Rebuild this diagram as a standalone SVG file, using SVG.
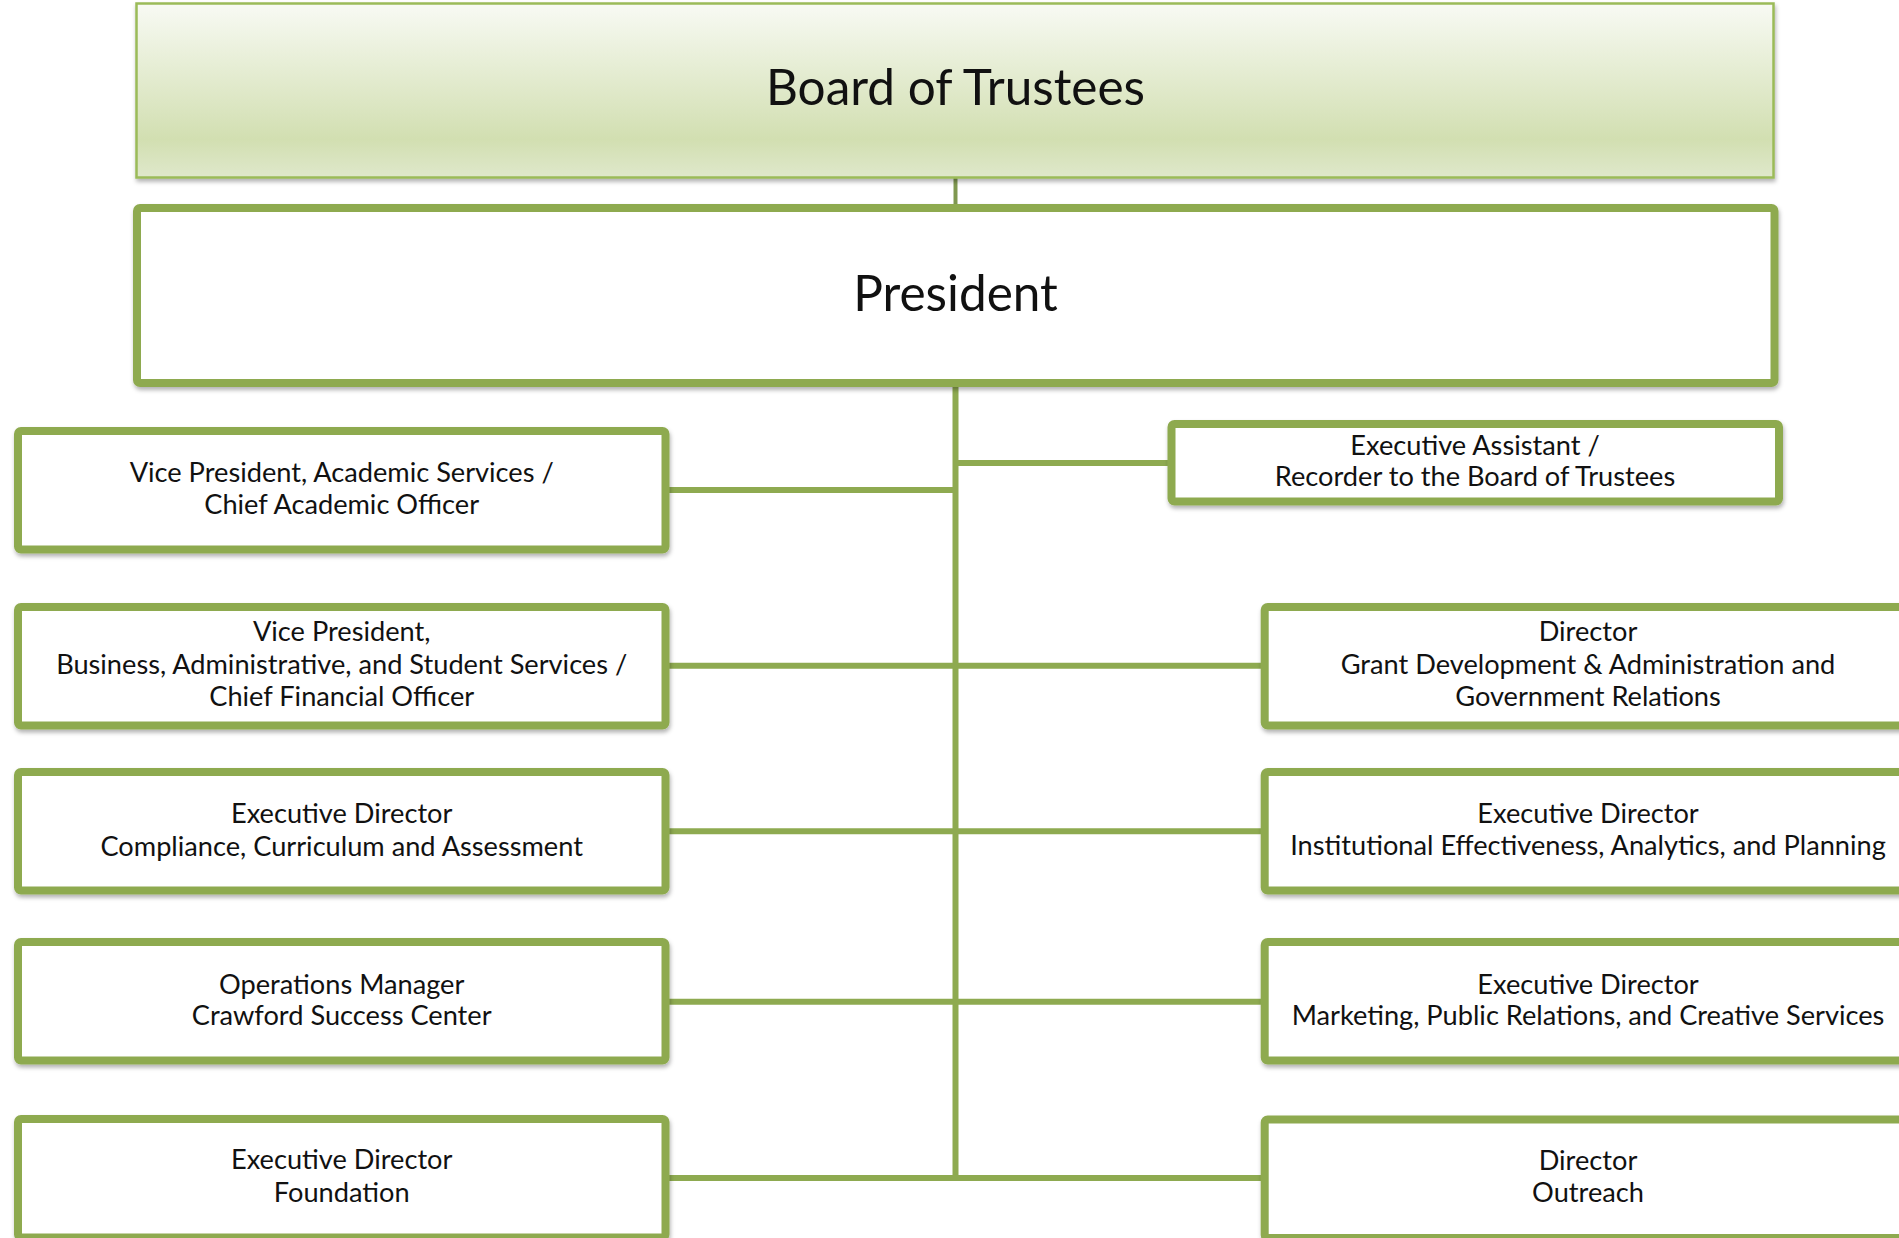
<svg xmlns="http://www.w3.org/2000/svg" width="1899" height="1238" viewBox="0 0 1899 1238">
<style>
.box{fill:#ffffff;stroke:#8eaa50;stroke-width:8;filter:url(#sh)}
.conn{stroke:#8eaa50;stroke-width:6;fill:none}
.t{font-family:Lato,"Open Sans","Liberation Sans",sans-serif;font-size:27.2px;fill:#111;text-anchor:middle}
.big{font-family:Lato,"Open Sans","Liberation Sans",sans-serif;font-size:49.5px;fill:#111;text-anchor:middle}
</style>
<defs>
<linearGradient id="bg" x1="0" y1="0" x2="0" y2="1">
<stop offset="0" stop-color="#f8faf4"/>
<stop offset="0.78" stop-color="#d2dfb1"/>
<stop offset="1" stop-color="#dfe8cb"/>
</linearGradient>
<filter id="sh" x="-5%" y="-10%" width="110%" height="130%">
<feDropShadow dx="1" dy="3" stdDeviation="2" flood-color="#000" flood-opacity="0.3"/>
</filter>
</defs>
<g id="connectors">
<line x1="955.5" y1="178" x2="955.5" y2="205" stroke="#7f9850" stroke-width="4"/>
<line class="conn" x1="955.5" y1="386" x2="955.5" y2="1181"/>
<line class="conn" x1="668" y1="490" x2="955.5" y2="490"/>
<line class="conn" x1="955.5" y1="463" x2="1168" y2="463"/>
<line class="conn" x1="668" y1="665.7" x2="1262" y2="665.7"/>
<line class="conn" x1="668" y1="831.3" x2="1262" y2="831.3"/>
<line class="conn" x1="668" y1="1001.7" x2="1262" y2="1001.7"/>
<line class="conn" x1="668" y1="1178" x2="1262" y2="1178"/>
</g>
<g id="board">
<rect x="136.5" y="3.5" width="1637" height="174" fill="url(#bg)" stroke="#9bbb59" stroke-width="2.5" filter="url(#sh)"/>
<text class="big" x="955.5" y="105">Board of Trustees</text>
</g>
<g id="president">
<rect class="box" x="137" y="208" width="1637.5" height="175" rx="3"/>
<text class="big" x="955.5" y="311">President</text>
</g>
<g id="vp-academic">
<rect class="box" x="18" y="431" width="647.5" height="118.5" rx="3"/>
<text class="t" x="341.7" y="481.5">Vice President, Academic Services /</text>
<text class="t" x="341.7" y="514">Chief Academic Officer</text>
</g>
<g id="vp-business">
<rect class="box" x="18" y="607" width="647.5" height="118.5" rx="3"/>
<text class="t" x="341.7" y="641">Vice President,</text>
<text class="t" x="341.7" y="674">Business, Administrative, and Student Services /</text>
<text class="t" x="341.7" y="705.5">Chief Financial Officer</text>
</g>
<g id="ed-compliance">
<rect class="box" x="18" y="772" width="647.5" height="118.5" rx="3"/>
<text class="t" x="341.7" y="823">Executive Director</text>
<text class="t" x="341.7" y="855.5">Compliance, Curriculum and Assessment</text>
</g>
<g id="ops-manager">
<rect class="box" x="18" y="942" width="647.5" height="118.5" rx="3"/>
<text class="t" x="341.7" y="993.5">Operations Manager</text>
<text class="t" x="341.7" y="1025">Crawford Success Center</text>
</g>
<g id="ed-foundation">
<rect class="box" x="18" y="1119" width="647.5" height="118.5" rx="3"/>
<text class="t" x="341.7" y="1169">Executive Director</text>
<text class="t" x="341.7" y="1202">Foundation</text>
</g>
<g id="exec-assistant">
<rect class="box" x="1171.5" y="424" width="607.5" height="77.5" rx="3"/>
<text class="t" x="1475" y="454.7">Executive Assistant /</text>
<text class="t" x="1475" y="486">Recorder to the Board of Trustees</text>
</g>
<g id="dir-grant">
<rect class="box" x="1264.7" y="607" width="647" height="118.5" rx="3"/>
<text class="t" x="1588" y="641">Director</text>
<text class="t" x="1588" y="674">Grant Development &amp; Administration and</text>
<text class="t" x="1588" y="705.5">Government Relations</text>
</g>
<g id="ed-ie">
<rect class="box" x="1264.7" y="772" width="647" height="118.5" rx="3"/>
<text class="t" x="1588" y="823">Executive Director</text>
<text class="t" x="1588" y="854.5">Institutional Effectiveness, Analytics, and Planning</text>
</g>
<g id="ed-marketing">
<rect class="box" x="1264.7" y="942" width="647" height="118.5" rx="3"/>
<text class="t" x="1588" y="993.5">Executive Director</text>
<text class="t" x="1588" y="1025">Marketing, Public Relations, and Creative Services</text>
</g>
<g id="dir-outreach">
<rect class="box" x="1264.7" y="1119.5" width="647" height="118.5" rx="3"/>
<text class="t" x="1588" y="1170">Director</text>
<text class="t" x="1588" y="1202">Outreach</text>
</g>
</svg>
